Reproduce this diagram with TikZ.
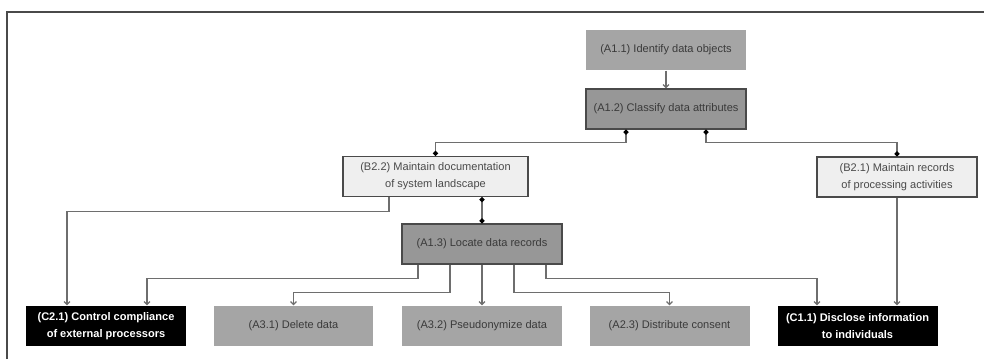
\documentclass[tikz,border=0pt]{standalone}
\usepackage{fontspec}
\setmainfont{Liberation Sans}
\usetikzlibrary{arrows.meta, calc}

\definecolor{framegrey}{HTML}{4A4A4A}
\definecolor{linegrey}{HTML}{6E6E6E}
\definecolor{midgrey}{HTML}{A5A5A5}
\definecolor{darkgrey}{HTML}{979797}
\definecolor{palegrey}{HTML}{EFEFEF}
\definecolor{textgrey}{HTML}{3A3A3A}

\begin{document}
\begin{tikzpicture}[
    x = 0.035cm,
    y = -0.035cm,
    line width = 1.2pt,
    > = {Straight Barb[length = 3pt, width = 6pt]},
    activity/.style = {
      font = \fontsize{11}{17}\selectfont,
      align = center,
      inner sep = 0pt,
      minimum width = 5.6cm,
      minimum height = 1.4cm},
    plain/.style = {activity, fill = midgrey, text = textgrey},
    core/.style = {activity, fill = darkgrey, draw = framegrey, text = textgrey},
    doc/.style = {activity, fill = palegrey, draw = framegrey, text = framegrey},
    comply/.style = {activity, fill = black, text = white,
      font = \fontsize{11}{17}\selectfont\bfseries},
    link/.style = {draw = linegrey},
    dotted ends/.style = {link,
      {Circle[length = 5pt, color = black]}-{Circle[length = 5pt, color = black]}},
    ]

    \useasboundingbox (0, 0) rectangle (984, 359);
    \draw [framegrey, line width = 2pt] (7, 359) -- (7, 12) -- (984, 12);

    \node at (666, 50)
    [plain, name = A1_1] {(A1.1) Identify data objects};
    \node at (666, 109)
    [core, name = A1_2] {(A1.2) Classify data attributes};

    \node at (435.5, 176.5)
    [doc, minimum width = 6.475cm, name = B2_2]
    {(B2.2) Maintain documentation\\of system landscape};
    \node at (897, 177)
    [doc, name = B2_1] {(B2.1) Maintain records\\of processing activities};

    \node at (482, 244)
    [core, name = A1_3] {(A1.3) Locate data records};

    \node at (106, 326)
    [comply, name = C2_1] {(C2.1) Control compliance\\of external processors};
    \node at (293.5, 326)
    [plain, name = A3_1] {(A3.1) Delete data};
    \node at (482, 326)
    [plain, name = A3_2] {(A3.2) Pseudonymize data};
    \node at (669.5, 326)
    [plain, name = A2_3] {(A2.3) Distribute consent};
    \node at (857.5, 326)
    [comply, name = C1_1] {(C1.1) Disclose information\\to individuals};

    \draw [link, ->] (A1_1) to (A1_2);

    \draw [dotted ends] ($(A1_2.south) + (-40, 0)$) -- ++(0, 13) -| (B2_2.north);
    \draw [dotted ends] ($(A1_2.south) + (40, 0)$) -- ++(0, 13) -| (B2_1.north);
    \draw [dotted ends] (B2_2.south -| A1_3.north) -- (A1_3.north);

    \draw [link, ->] ($(B2_2.south) + (-46.5, 0)$) -- ++(0, 14)
    -| ($(C2_1.north) + (-39, 0)$);

    \draw [link, ->] ($(A1_3.south) + (-64, 0)$) -- ++(0, 14)
    -| ($(C2_1.north) + (41, 0)$);
    \draw [link, ->] ($(A1_3.south) + (-32, 0)$) -- ++(0, 28) -| (A3_1.north);
    \draw [link, ->] (A1_3) to (A3_2);
    \draw [link, ->] ($(A1_3.south) + (32, 0)$) -- ++(0, 28) -| (A2_3.north);
    \draw [link, ->] ($(A1_3.south) + (64, 0)$) -- ++(0, 14)
    -| ($(C1_1.north) + (-40.5, 0)$);

    \draw [link, ->] (B2_1.south) -- (B2_1.south |- C1_1.north);
  \end{tikzpicture}
\end{document}
